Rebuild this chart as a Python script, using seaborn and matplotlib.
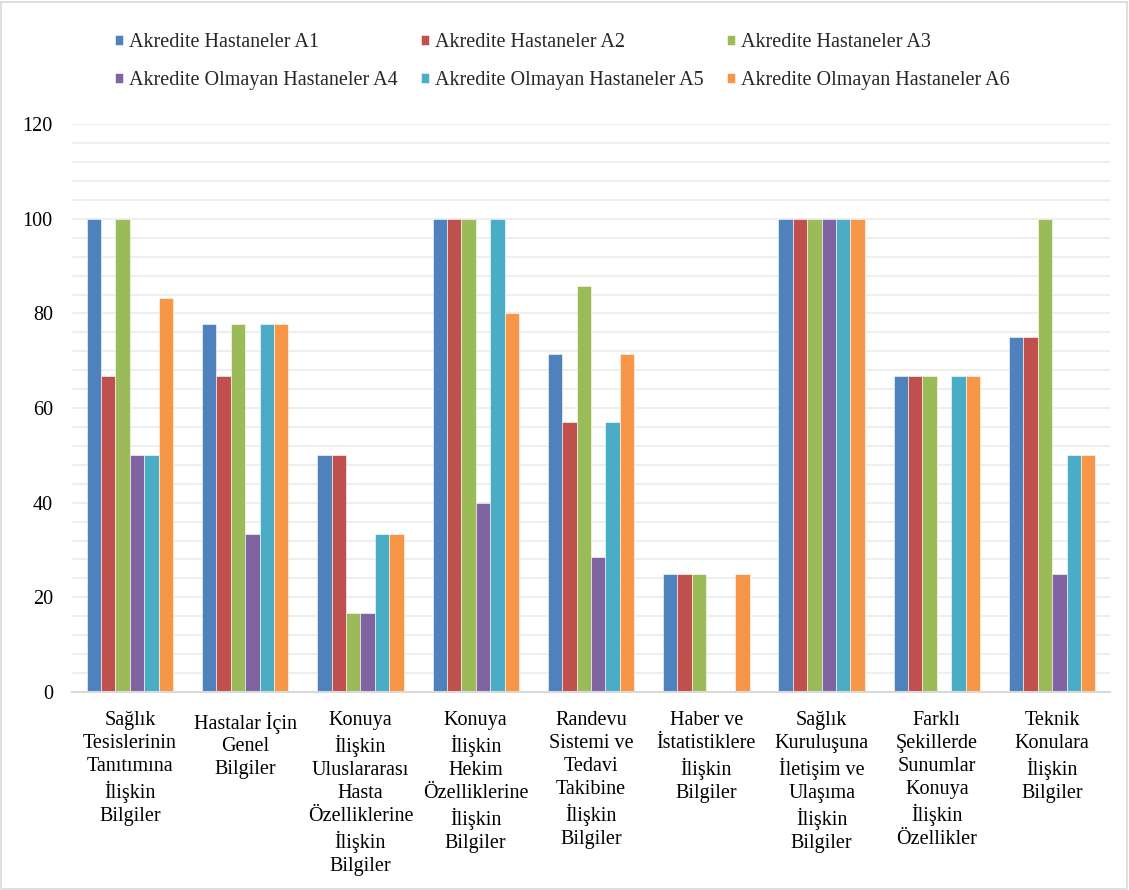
import matplotlib
matplotlib.use("Agg")
import matplotlib.pyplot as plt
from matplotlib import font_manager
import seaborn as sns
import pandas as pd
from matplotlib.patches import Rectangle

categories = [
    "Sağlık\nTesislerinin\nTanıtımına\nİlişkin\nBilgiler",
    "Hastalar İçin\nGenel\nBilgiler",
    "Konuya\nİlişkin\nUluslararası\nHasta\nÖzelliklerine\nİlişkin\nBilgiler",
    "Konuya\nİlişkin\nHekim\nÖzelliklerine\nİlişkin\nBilgiler",
    "Randevu\nSistemi ve\nTedavi\nTakibine\nİlişkin\nBilgiler",
    "Haber ve\nİstatistiklere\nİlişkin\nBilgiler",
    "Sağlık\nKuruluşuna\nİletişim ve\nUlaşıma\nİlişkin\nBilgiler",
    "Farklı\nŞekillerde\nSunumlar\nKonuya\nİlişkin\nÖzellikler",
    "Teknik\nKonulara\nİlişkin\nBilgiler",
]
series_names = [
    "Akredite Hastaneler A1",
    "Akredite Hastaneler A2",
    "Akredite Hastaneler A3",
    "Akredite Olmayan Hastaneler A4",
    "Akredite Olmayan Hastaneler A5",
    "Akredite Olmayan Hastaneler A6",
]
a1 = [100, 77.8, 50, 100, 71.4, 25, 100, 66.7, 75]
a2 = [66.7, 66.7, 50, 100, 57.1, 25, 100, 66.7, 75]
a3 = [100, 77.8, 16.7, 100, 85.7, 25, 100, 66.7, 100]
a4 = [50, 33.3, 16.7, 40, 28.6, 0, 100, 0, 25]
a5 = [50, 77.8, 33.3, 100, 57.1, 0, 100, 66.7, 50]
a6 = [83.3, 77.8, 33.3, 80, 71.4, 25, 100, 66.7, 50]
series_values = [a1, a2, a3, a4, a5, a6]
colors = ["#4F81BD", "#C0504D", "#9BBB59", "#8064A2", "#4BACC6", "#F79646"]

rows = []
for name, vals in zip(series_names, series_values):
    for cat, v in zip(categories, vals):
        rows.append({"cat": cat, "series": name, "value": v})
df = pd.DataFrame(rows)

sns.set_theme(style="white")
installed = set(f.name for f in font_manager.fontManager.ttflist)
serif_pref = [f for f in ["Liberation Serif", "Tinos", "Noto Serif", "DejaVu Serif"] if f in installed]
plt.rcParams["font.family"] = serif_pref
FS = 14.5

fig = plt.figure(figsize=(11.29, 8.90), dpi=100)
ax = fig.add_axes([0.064, 0.2225, 0.919, 0.638])

sns.barplot(data=df, x="cat", y="value", hue="series", order=categories,
            hue_order=series_names, palette=colors, width=0.75,
            edgecolor="white", linewidth=0.4, saturation=1, ax=ax, errorbar=None)

handles, labels = ax.get_legend_handles_labels()
ax.get_legend().remove()

ax.set_ylim(0, 120)
ax.set_xlim(-0.5, len(categories) - 0.5)
ax.set_yticks(range(0, 121, 20))
ax.set_yticks(range(0, 121, 4), minor=True)
ax.grid(axis="y", which="both", color="#EBEBEB", linewidth=1.2)
ax.set_axisbelow(True)
for s in ["left", "right", "top"]:
    ax.spines[s].set_visible(False)
ax.spines["bottom"].set_color("#D9D9D9")
ax.spines["bottom"].set_linewidth(1.5)
ax.tick_params(axis="y", which="both", length=0, pad=14, labelsize=FS, colors="black")
ax.tick_params(axis="x", length=0, pad=14, labelsize=FS, colors="black")
for lbl in ax.get_xticklabels():
    lbl.set_linespacing(1.28)
ax.set_xlabel("")
ax.set_ylabel("")

# row-major legend order for a 3-column, 2-row legend
order = [0, 3, 1, 4, 2, 5]
fig.legend([handles[i] for i in order], [labels[i] for i in order],
           loc="upper left", bbox_to_anchor=(0.095, 0.972), ncol=3,
           frameon=False, fontsize=FS, handlelength=0.4, handleheight=0.4,
           handletextpad=0.3, columnspacing=1.15, labelspacing=0.95, borderaxespad=0)

fig.patches.append(Rectangle((0.001, 0.001), 0.997, 0.997, transform=fig.transFigure,
                             fill=False, edgecolor="#D9D9D9", linewidth=1.2))

fig.savefig("out.png", dpi=100)
